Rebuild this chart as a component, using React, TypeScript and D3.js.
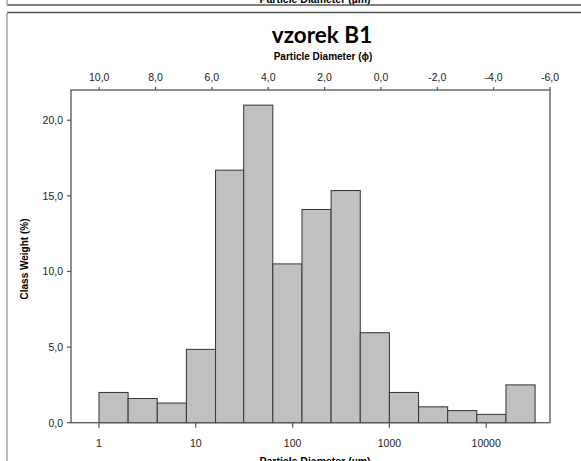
import React from "react";
import * as d3 from "d3";

const binEdges = [1, 2, 4, 8, 16, 31.25, 62.5, 125, 250, 500, 1000, 2000, 4000, 8000, 16000, 32000];
const classWeights = [2.0, 1.6, 1.3, 4.85, 16.7, 21.0, 10.5, 14.1, 15.35, 5.95, 2.0, 1.05, 0.8, 0.55, 2.5];
const yTicks = [0, 5, 10, 15, 20];
const phiTicks = [10, 8, 6, 4, 2, 0, -2, -4, -6];
const umTicks = [1, 10, 100, 1000, 10000];

const W = 581;
const H = 461;
const left = 71;
const right = 550;
const top = 90;
const bottom = 422.7;

export default function App() {
  const x = d3.scaleLog().domain([0.514, 45600]).range([left, right]);
  const xPhi = d3.scaleLinear().domain([11, -6]).range([left, right]);
  const y = d3.scaleLinear().domain([0, 22]).range([bottom, top]);
  const fmt = (v: number) => v.toFixed(1).replace(".", ",");
  const font = "'Liberation Sans', Arial, sans-serif";
  const bars = classWeights.map((v, i) => ({ x0: binEdges[i], x1: binEdges[i + 1], v }));

  return (
    <svg width={W} height={H} style={{ position: "absolute", left: 0, top: 0, background: "#fff" }}>
      <rect x={0} y={0} width={W} height={H} fill="#fff" />
      {/* previous chart remnant */}
      <text x={315} y={2.5} textAnchor="middle" fontFamily={font} fontWeight="bold" fontSize={10.5} fill="#000">
        Particle Diameter (µm)
      </text>
      <line x1={7} y1={5} x2={W} y2={5} stroke="#555" strokeWidth={1.3} />
      <line x1={7} y1={0} x2={7} y2={5} stroke="#bbb" strokeWidth={2} />
      {/* chart box */}
      <line x1={7} y1={12.5} x2={W} y2={12.5} stroke="#555" strokeWidth={1.3} />
      <line x1={7} y1={13} x2={7} y2={H} stroke="#bbb" strokeWidth={2} />

      <text x={322} y={43} textAnchor="middle" fontFamily="Lato, 'Open Sans', sans-serif" fontWeight="bold" fontSize={22.5} fill="#000">
        vzorek B1
      </text>
      <text x={323} y={60} textAnchor="middle" fontFamily={font} fontWeight="bold" fontSize={10} fill="#000">
        Particle Diameter (ϕ)
      </text>

      {bars.map((b, i) => (
        <rect
          key={i}
          x={x(b.x0)}
          y={y(b.v)}
          width={x(b.x1) - x(b.x0)}
          height={y(0) - y(b.v)}
          fill="#c0c0c0"
          stroke="#333"
          strokeWidth={1}
        />
      ))}

      {/* frame */}
      <rect x={left} y={top} width={right - left} height={bottom - top} fill="none" stroke="#555" strokeWidth={1.3} />

      {/* y axis */}
      {yTicks.map((t) => (
        <g key={t}>
          <line x1={left - 4} x2={left} y1={y(t)} y2={y(t)} stroke="#555" strokeWidth={1.2} />
          <text x={63} y={y(t) + 4} textAnchor="end" fontFamily={font} fontSize={10.5} fill="#222">
            {fmt(t)}
          </text>
        </g>
      ))}
      <text
        transform={`translate(28,259) rotate(-90)`}
        textAnchor="middle"
        fontFamily={font}
        fontWeight="bold"
        fontSize={10}
        fill="#000"
      >
        Class Weight (%)
      </text>

      {/* top phi axis */}
      {phiTicks.map((t) => (
        <g key={t}>
          <line x1={xPhi(t)} x2={xPhi(t)} y1={top - 3} y2={top} stroke="#555" strokeWidth={1.2} />
          <text x={xPhi(t)} y={81} textAnchor="middle" fontFamily={font} fontSize={10.5} fill="#222">
            {fmt(t)}
          </text>
        </g>
      ))}

      {/* bottom um axis */}
      {umTicks.map((t) => (
        <g key={t}>
          <line x1={x(t)} x2={x(t)} y1={bottom} y2={bottom + 5} stroke="#555" strokeWidth={1.2} />
          <text x={x(t)} y={447} textAnchor="middle" fontFamily={font} fontSize={10.5} fill="#222">
            {String(t)}
          </text>
        </g>
      ))}
      <text x={315} y={465} textAnchor="middle" fontFamily={font} fontWeight="bold" fontSize={10.5} fill="#000">
        Particle Diameter (µm)
      </text>
    </svg>
  );
}
